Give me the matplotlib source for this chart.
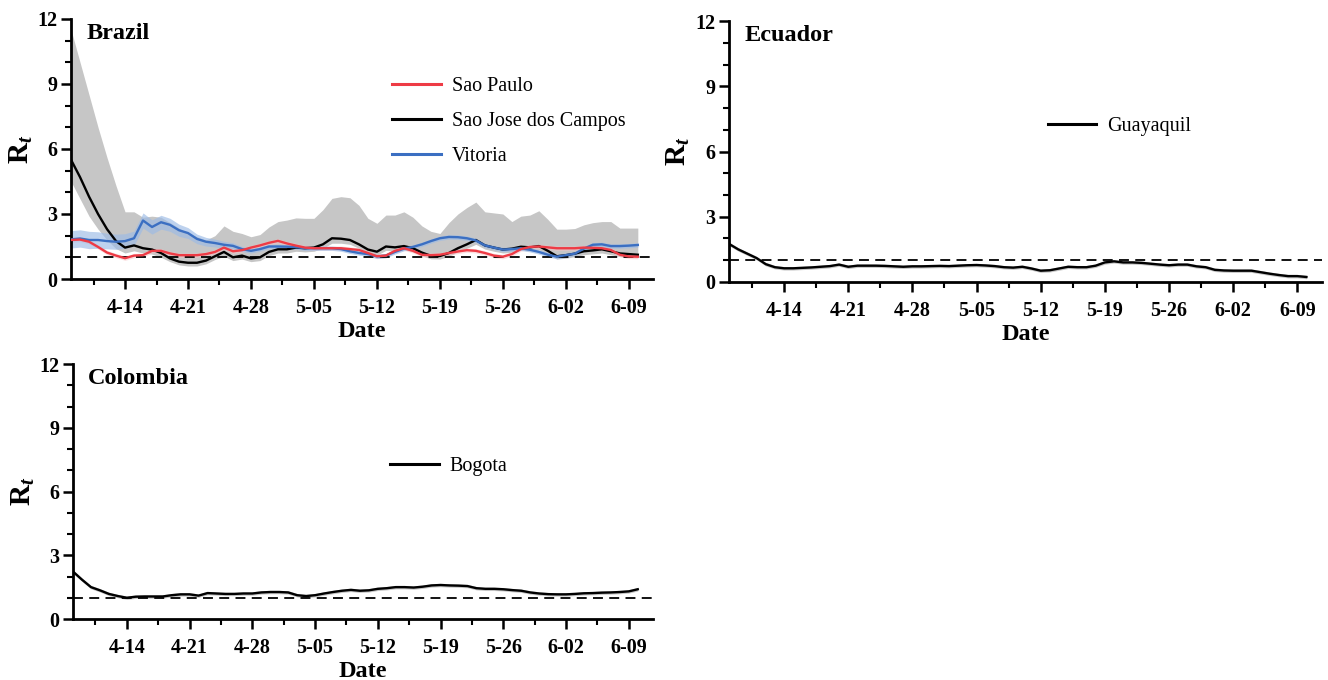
import matplotlib
matplotlib.use("Agg")
import matplotlib.pyplot as plt
import matplotlib.dates as mdates
import numpy as np
import pandas as pd

plt.rcParams['font.family'] = ['Liberation Serif', 'DejaVu Serif']
plt.rcParams['mathtext.fontset'] = 'custom'
plt.rcParams['mathtext.rm'] = 'Liberation Serif:bold'
plt.rcParams['mathtext.bf'] = 'Liberation Serif:bold'
plt.rcParams['mathtext.it'] = 'Liberation Serif:bold:italic'

# daily dates, Apr 8 - Jun 10 2020
dates = pd.date_range("2020-04-08", periods=64, freq="D")

# Brazil
sao_paulo = [1.80, 1.82, 1.72, 1.48, 1.22, 1.08, 0.96, 1.08, 1.10, 1.30,
             1.30, 1.18, 1.10, 1.10, 1.10, 1.15, 1.25, 1.45, 1.28, 1.33,
             1.45, 1.55, 1.67, 1.76, 1.64, 1.54, 1.45, 1.42, 1.42, 1.42,
             1.42, 1.38, 1.34, 1.20, 1.05, 1.08, 1.30, 1.42, 1.30, 1.12,
             1.10, 1.12, 1.20, 1.27, 1.33, 1.30, 1.20, 1.08, 1.03, 1.15,
             1.38, 1.48, 1.50, 1.46, 1.42, 1.42, 1.42, 1.45, 1.44, 1.42,
             1.34, 1.12, 1.04, 1.03]
sao_paulo_ci = [0.10] * 64

sao_jose = [5.50, 4.70, 3.80, 3.00, 2.30, 1.75, 1.45, 1.55, 1.42, 1.36,
            1.20, 0.95, 0.80, 0.75, 0.75, 0.85, 1.05, 1.25, 1.00, 1.08,
            0.95, 1.00, 1.25, 1.37, 1.37, 1.45, 1.42, 1.45, 1.60, 1.88,
            1.86, 1.80, 1.60, 1.36, 1.26, 1.50, 1.46, 1.52, 1.42, 1.22,
            1.07, 1.06, 1.20, 1.42, 1.60, 1.80, 1.55, 1.45, 1.36, 1.40,
            1.49, 1.46, 1.52, 1.30, 1.05, 1.10, 1.17, 1.28, 1.32, 1.37,
            1.28, 1.18, 1.15, 1.12]
sao_jose_lo = [4.50, 3.70, 2.90, 2.30, 1.80, 1.40, 1.20, 1.30, 1.20, 1.15,
               1.00, 0.80, 0.65, 0.60, 0.60, 0.70, 0.90, 1.05, 0.85, 0.92,
               0.80, 0.85, 1.08, 1.20, 1.20, 1.28, 1.25, 1.28, 1.42, 1.65,
               1.65, 1.60, 1.42, 1.20, 1.10, 1.32, 1.30, 1.35, 1.25, 1.07,
               0.93, 0.92, 1.05, 1.25, 1.42, 1.60, 1.38, 1.28, 1.20, 1.23,
               1.32, 1.30, 1.35, 1.15, 0.92, 0.96, 1.03, 1.12, 1.16, 1.20,
               1.12, 1.04, 1.00, 0.98]
sao_jose_hi = [11.5, 10.0, 8.50, 7.00, 5.60, 4.30, 3.10, 3.10, 2.85, 2.90,
               2.85, 2.60, 2.35, 2.10, 1.95, 1.80, 2.00, 2.45, 2.20, 2.10,
               1.95, 2.05, 2.40, 2.65, 2.72, 2.82, 2.80, 2.80, 3.20, 3.72,
               3.80, 3.75, 3.40, 2.80, 2.57, 2.95, 2.95, 3.10, 2.85, 2.45,
               2.20, 2.10, 2.60, 3.00, 3.30, 3.55, 3.10, 3.05, 3.00, 2.65,
               2.90, 2.95, 3.15, 2.75, 2.30, 2.30, 2.33, 2.50, 2.60, 2.65,
               2.65, 2.35, 2.35, 2.35]

vitoria = [1.83, 1.87, 1.80, 1.80, 1.75, 1.72, 1.75, 1.88, 2.70, 2.40,
           2.62, 2.50, 2.25, 2.12, 1.85, 1.72, 1.66, 1.58, 1.53, 1.38,
           1.30, 1.38, 1.50, 1.50, 1.49, 1.47, 1.42, 1.42, 1.42, 1.42,
           1.38, 1.28, 1.20, 1.15, 1.04, 1.08, 1.25, 1.40, 1.48, 1.60,
           1.75, 1.88, 1.94, 1.93, 1.88, 1.78, 1.55, 1.45, 1.36, 1.38,
           1.42, 1.35, 1.25, 1.12, 1.03, 1.10, 1.17, 1.40, 1.58, 1.60,
           1.52, 1.52, 1.54, 1.57]
vitoria_ci = [0.40, 0.40, 0.40, 0.38, 0.36, 0.35, 0.34, 0.33, 0.35, 0.33,
              0.32, 0.30, 0.28, 0.25, 0.22, 0.20, 0.18, 0.16, 0.14, 0.12,
              0.10, 0.10, 0.10, 0.10, 0.10, 0.10, 0.10, 0.10, 0.10, 0.10,
              0.10, 0.10, 0.10, 0.10, 0.10, 0.10, 0.10, 0.10, 0.10, 0.10,
              0.10, 0.10, 0.10, 0.10, 0.10, 0.10, 0.10, 0.10, 0.10, 0.10,
              0.10, 0.10, 0.10, 0.10, 0.10, 0.10, 0.10, 0.10, 0.10, 0.10,
              0.10, 0.10, 0.10, 0.10]

# Ecuador
guayaquil = [1.75, 1.50, 1.30, 1.10, 0.82, 0.68, 0.63, 0.63, 0.65, 0.67,
             0.70, 0.73, 0.80, 0.70, 0.75, 0.75, 0.75, 0.74, 0.72, 0.70,
             0.72, 0.72, 0.73, 0.74, 0.73, 0.75, 0.77, 0.78, 0.76, 0.73,
             0.68, 0.66, 0.70, 0.62, 0.52, 0.54, 0.62, 0.70, 0.68, 0.68,
             0.75, 0.90, 0.95, 0.90, 0.90, 0.88, 0.84, 0.80, 0.77, 0.80,
             0.80, 0.72, 0.68, 0.56, 0.53, 0.52, 0.52, 0.52, 0.45, 0.38,
             0.32, 0.27, 0.27, 0.23]
guayaquil_ci = [0.08] * 64

# Colombia
bogota = [2.23, 1.85, 1.50, 1.35, 1.18, 1.08, 1.00, 1.05, 1.06, 1.06,
          1.06, 1.12, 1.16, 1.16, 1.10, 1.22, 1.20, 1.18, 1.18, 1.20,
          1.20, 1.25, 1.27, 1.27, 1.25, 1.12, 1.08, 1.12, 1.20, 1.27,
          1.33, 1.37, 1.33, 1.35, 1.42, 1.45, 1.50, 1.50, 1.48, 1.52,
          1.58, 1.60, 1.58, 1.57, 1.55, 1.45, 1.42, 1.42, 1.40, 1.36,
          1.33, 1.25, 1.20, 1.17, 1.16, 1.16, 1.18, 1.21, 1.22, 1.24,
          1.25, 1.27, 1.30, 1.40]
bogota_ci = [0.08] * 64

major_ticks = pd.date_range("2020-04-14", "2020-06-09", freq="7D")
minor_ticks = major_ticks - pd.Timedelta(hours=84)

RED = '#ee3b45'
BLUE = '#3b6fc2'
GRAY = '#c6c6c6'


def style_axis(ax, title):
    ax.set_ylim(0, 12)
    ax.set_xlim(dates[0], dates[0] + pd.Timedelta(days=64.7))
    ax.set_yticks([0, 3, 6, 9, 12])
    ax.set_yticks(np.arange(0, 13, 1), minor=True)
    ax.set_xticks(major_ticks)
    ax.set_xticks(minor_ticks, minor=True)
    ax.xaxis.set_major_formatter(mdates.DateFormatter('%-m-%d'))
    ax.spines['top'].set_visible(False)
    ax.spines['right'].set_visible(False)
    for s in ['left', 'bottom']:
        ax.spines[s].set_linewidth(2.0)
    ax.tick_params(which='major', length=7, width=1.8, labelsize=14.5)
    ax.tick_params(which='minor', length=4, width=1.5)
    ax.tick_params(axis='x', which='major', pad=7)
    ax.tick_params(axis='y', which='major', pad=3)
    for lab in ax.get_xticklabels() + ax.get_yticklabels():
        lab.set_fontweight('bold')
    ax.axhline(1, color='black', lw=1.3, dashes=(5.5, 3.5), zorder=1.5)
    ax.set_xlabel('Date', fontsize=17.5, fontweight='bold', labelpad=2)
    ax.set_ylabel(r'$\mathbf{R}_t$', fontsize=21)
    ax.yaxis.set_label_coords(-0.062, 0.5)
    ax.text(0.026, 0.985, title, transform=ax.transAxes, fontsize=17.5,
            fontweight='bold', va='top', ha='left')


LEG = dict(frameon=False, fontsize=14.5, handlelength=2.4, handletextpad=0.55,
           borderpad=0, borderaxespad=0)

fig = plt.figure(figsize=(13.28, 6.8), dpi=100)
ax1 = fig.add_axes([0.0535, 0.5897, 0.4383, 0.3824])
ax2 = fig.add_axes([0.549, 0.5853, 0.4465, 0.3838])
ax3 = fig.add_axes([0.055, 0.0897, 0.4367, 0.375])

# Brazil
sj_lo = np.array(sao_jose_lo)
sj_hi = np.array(sao_jose_hi)
ax1.fill_between(dates, sj_lo, sj_hi, color=GRAY, lw=0, zorder=1)
vit = np.array(vitoria)
vci = np.array(vitoria_ci)
ax1.fill_between(dates, vit - vci, vit + vci, color='#9bbbe6', alpha=0.65, lw=0, zorder=1.2)
sp = np.array(sao_paulo)
spci = np.array(sao_paulo_ci)
ax1.fill_between(dates, sp - spci, sp + spci, color='#f6c2c5', alpha=0.5, lw=0, zorder=1.1)
ax1.plot(dates, sao_jose, color='black', lw=1.7, zorder=3, label='Sao Jose dos Campos')
ax1.plot(dates, vitoria, color=BLUE, lw=1.7, zorder=3.1, label='Vitoria')
ax1.plot(dates, sao_paulo, color=RED, lw=1.7, zorder=3.2, label='Sao Paulo')
style_axis(ax1, 'Brazil')
h, l = ax1.get_legend_handles_labels()
order = [2, 0, 1]
leg = ax1.legend([h[i] for i in order], [l[i] for i in order], loc='upper left',
                 bbox_to_anchor=(0.552, 0.776), labelspacing=0.78, **LEG)
for ln in leg.get_lines():
    ln.set_linewidth(2.2)

# Ecuador
gq = np.array(guayaquil)
gci = np.array(guayaquil_ci)
ax2.fill_between(dates, gq - gci, gq + gci, color=GRAY, lw=0, zorder=1)
ax2.plot(dates, guayaquil, color='black', lw=1.7, zorder=3, label='Guayaquil')
style_axis(ax2, 'Ecuador')
leg = ax2.legend(loc='upper left', bbox_to_anchor=(0.538, 0.633), **LEG)
for ln in leg.get_lines():
    ln.set_linewidth(2.2)

# Colombia
bg = np.array(bogota)
bci = np.array(bogota_ci)
ax3.fill_between(dates, bg - bci, bg + bci, color=GRAY, lw=0, zorder=1)
ax3.plot(dates, bogota, color='black', lw=1.7, zorder=3, label='Bogota')
style_axis(ax3, 'Colombia')
leg = ax3.legend(loc='upper left', bbox_to_anchor=(0.547, 0.634), **LEG)
for ln in leg.get_lines():
    ln.set_linewidth(2.2)

fig.savefig('out.png', dpi=100)
